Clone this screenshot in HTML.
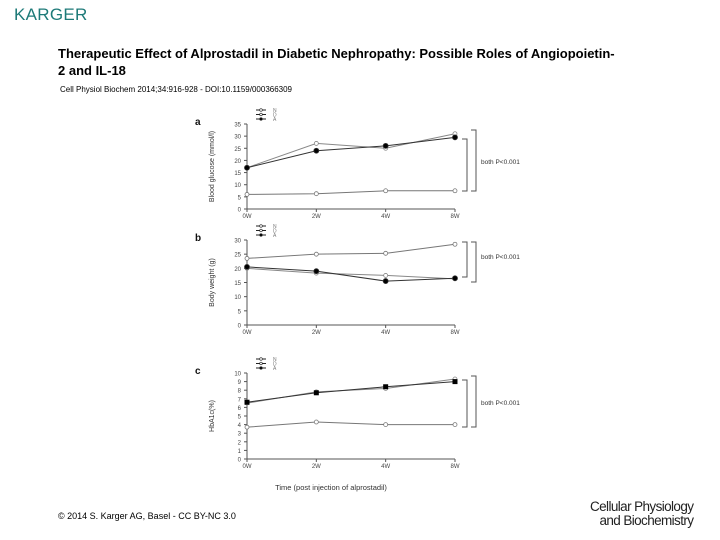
<!DOCTYPE html>
<html><head><meta charset="utf-8"><style>
body{margin:0;width:720px;height:540px;background:#fff;overflow:hidden;font-family:"Liberation Sans",sans-serif;position:relative}
.t{position:absolute;white-space:nowrap}
</style></head><body>
<div class="t" style="left:14px;top:5px;font-size:17px;color:#1d7a78;letter-spacing:0.3px">KARGER</div>
<div class="t" style="left:58px;top:45px;font-size:13px;font-weight:bold;line-height:17px;color:#000">Therapeutic Effect of Alprostadil in Diabetic Nephropathy: Possible Roles of Angiopoietin-<br>2 and IL-18</div>
<div class="t" style="left:60px;top:85px;font-size:8px;color:#000">Cell Physiol Biochem 2014;34:916-928 - DOI:10.1159/000366309</div>
<div class="t" style="left:58px;top:511px;font-size:9px;color:#000">© 2014 S. Karger AG, Basel - CC BY-NC 3.0</div>
<div class="t" style="left:590px;top:500px;font-size:13.5px;line-height:14px;color:#222;letter-spacing:-0.6px">Cellular Physiology<br>&nbsp;&nbsp;&nbsp;and Biochemistry</div>
<svg id="chart" width="720" height="540" style="position:absolute;left:0;top:0" font-family="Liberation Sans, sans-serif"></svg>
<script>
const categories=["0W","2W","4W","8W"];
const seriesNames=["N","D","A"];
const aN=[6,6.3,7.5,7.5];
const aD=[17,27,25,31];
const aA=[17,24,26,29.5];
const bN=[23.5,25,25.3,28.5];
const bD=[20,18.3,17.5,16.3];
const bA=[20.5,19,15.5,16.5];
const cN=[3.7,4.3,4,4];
const cD=[6.5,7.8,8.2,9.3];
const cA=[6.6,7.7,8.4,9.0];
const aTicks=[0,5,10,15,20,25,30,35];
const bTicks=[0,5,10,15,20,25,30];
const cTicks=[0,1,2,3,4,5,6,7,8,9,10];
const svg=document.getElementById('chart');
const NS="http://www.w3.org/2000/svg";
function mk(tag,at,parent){const e=document.createElementNS(NS,tag);for(const k in at)e.setAttribute(k,at[k]);(parent||svg).appendChild(e);return e;}
const xPos=i=>247+i*69.33;
const panels=[
 {id:'a',letter:'a',label:'Blood glucose (mmol/l)',top:124,bot:209,max:35,ticks:aTicks,N:aN,D:aD,A:aA,br:[130,191,139,191],txt:162,Afill:'circle'},
 {id:'b',letter:'b',label:'Body weight (g)',top:240,bot:325,max:30,ticks:bTicks,N:bN,D:bD,A:bA,br:[242,282,242,277],txt:257,Afill:'circle'},
 {id:'c',letter:'c',label:'HbA1c(%)',top:373,bot:459,max:10,ticks:cTicks,N:cN,D:cD,A:cA,br:[376,427,380,427],txt:403,Afill:'square'}
];
panels.forEach(p=>{
 const g=mk('g',{});
 
 
 const y=v=>p.bot-(v/p.max)*(p.bot-p.top);
 const x=i=>xPos(i);
 const ax=mk('path',{d:`M247 ${p.top}V${p.bot}H455`,stroke:'#555',fill:'none','stroke-width':1},g);
 
 
 p.ticks.forEach(t=>{
  mk('line',{x1:244,x2:247,y1:y(t),y2:y(t),stroke:'#555'},g);
  const tl=mk('text',{x:241,y:y(t)+2.5,'font-size':6,'text-anchor':'end',fill:'#444'},g);tl.textContent=t;
  
  
 });
 categories.forEach((c,i)=>{
  mk('line',{x1:x(i),x2:x(i),y1:p.bot,y2:p.bot+3,stroke:'#555'},g);
  const tl=mk('text',{x:x(i),y:p.bot+9,'font-size':6,'text-anchor':'middle',fill:'#444'},g);tl.textContent=c;
  
  
 });
 const yl=mk('text',{x:0,y:0,'font-size':7,'text-anchor':'middle',fill:'#333',transform:`translate(214,${(p.top+p.bot)/2}) rotate(-90)`},g);yl.textContent=p.label;
 
 
 const lt=mk('text',{x:195,y:p.top+1,'font-size':10,'font-weight':'bold',fill:'#111'},g);lt.textContent=p.letter;
 
 
 [['N',p.N,'#777','#fff'],['D',p.D,'#888','#fff'],['A',p.A,'#333','#000']].forEach(([nm,vals,col,fill],si)=>{
  const pl=mk('polyline',{points:vals.map((v,i)=>x(i)+','+y(v)).join(' '),fill:'none',stroke:col,'stroke-width':1},g);
  
  
  vals.forEach((v,i)=>{
   let m;
   if(nm==='A'&&p.Afill==='square') m=mk('rect',{x:x(i)-2.5,y:y(v)-2.5,width:5,height:5,fill:'#000'},g);
   else m=mk('circle',{cx:x(i),cy:y(v),r:nm==='A'?2.5:2,fill:fill,stroke:col,'stroke-width':0.8},g);
   
   
  });
  const ly=p.top-14+si*4.5;
  mk('line',{x1:256,x2:266,y1:ly,y2:ly,stroke:'#222','stroke-width':1},g);
  mk('circle',{cx:261,cy:ly,r:1.3,fill:nm==='A'?'#000':'#fff',stroke:'#222','stroke-width':0.6},g);
  const lx=mk('text',{x:273,y:ly+2,'font-size':5,fill:'#777'},g);lx.textContent=nm;
  
  
 });
 const [o1,o2,i1,i2]=p.br;
 const b1=mk('path',{d:`M471 ${o1}H476V${o2}H471`,fill:'none',stroke:'#555'},g);
 
 
 const b2=mk('path',{d:`M462 ${i1}H467V${i2}H462`,fill:'none',stroke:'#555'},g);
 
 
 const pt=mk('text',{x:481,y:p.txt+2,'font-size':6.5,fill:'#333'},g);pt.textContent='both P<0.001';
 
 
});
const xt=mk('text',{x:331,y:490,'font-size':7.5,'text-anchor':'middle',fill:'#333'});xt.textContent='Time (post injection of alprostadil)';


</script>
</body></html>
